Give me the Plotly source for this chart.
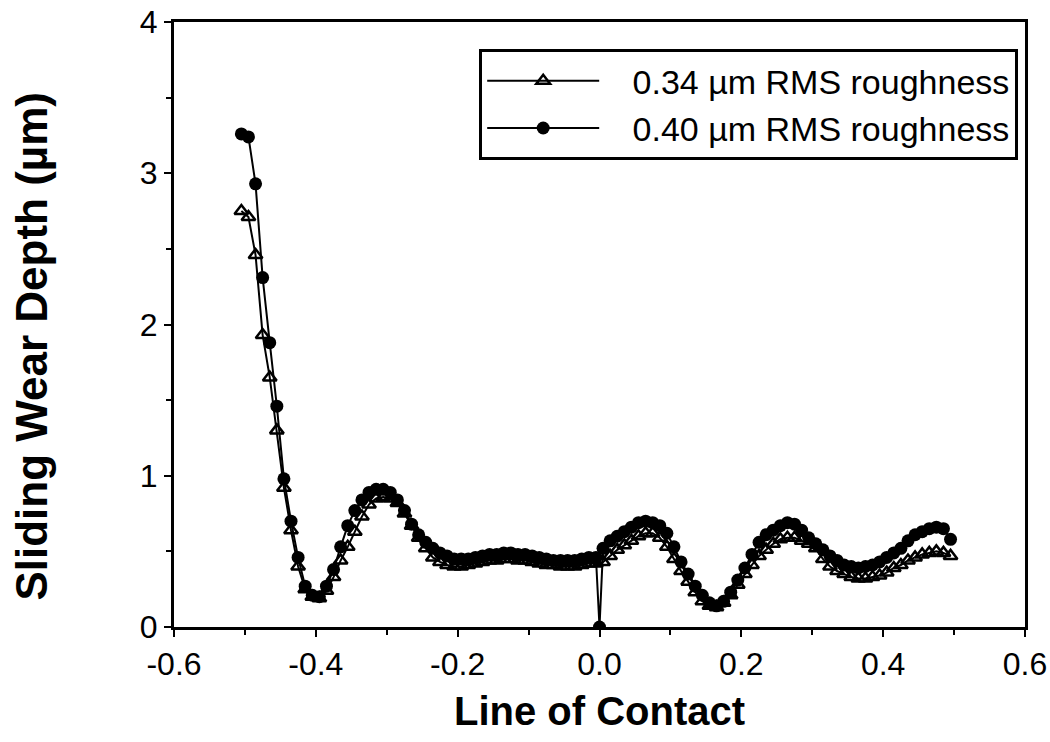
import plotly.graph_objects as go

# x positions (Line of Contact)
x_tri = [-0.505, -0.495, -0.485, -0.475, -0.465, -0.455, -0.445, -0.435, -0.425, -0.415,
         -0.405, -0.395, -0.385, -0.375, -0.365, -0.355, -0.345, -0.335, -0.325, -0.315,
         -0.305, -0.295, -0.285, -0.275, -0.265, -0.255, -0.245, -0.235, -0.225, -0.215,
         -0.205, -0.195, -0.185, -0.175, -0.165, -0.155, -0.145, -0.135, -0.125, -0.115,
         -0.105, -0.095, -0.085, -0.075, -0.065, -0.055, -0.045, -0.035, -0.025, -0.015,
         -0.005, 0.005, 0.015, 0.025, 0.035, 0.045, 0.055, 0.065, 0.075, 0.085,
         0.095, 0.105, 0.115, 0.125, 0.135, 0.145, 0.155, 0.165, 0.175, 0.185,
         0.195, 0.205, 0.215, 0.225, 0.235, 0.245, 0.255, 0.265, 0.275, 0.285,
         0.295, 0.305, 0.315, 0.325, 0.335, 0.345, 0.355, 0.365, 0.375, 0.385,
         0.395, 0.405, 0.415, 0.425, 0.435, 0.445, 0.455, 0.465, 0.475, 0.485, 0.495]

# 0.34 um RMS roughness (triangles)
y_034 = [2.75, 2.71, 2.46, 1.93, 1.65, 1.30, 0.92, 0.64, 0.40, 0.25,
         0.20, 0.19, 0.24, 0.33, 0.44, 0.53, 0.63, 0.73, 0.81, 0.85,
         0.86, 0.85, 0.82, 0.75, 0.67, 0.59, 0.52, 0.46, 0.43, 0.41,
         0.40, 0.40, 0.41, 0.42, 0.43, 0.44, 0.44, 0.45, 0.45, 0.44,
         0.44, 0.43, 0.42, 0.41, 0.41, 0.40, 0.40, 0.40, 0.41, 0.42,
         0.42, 0.43, 0.47, 0.51, 0.54, 0.57, 0.60, 0.62, 0.62, 0.59,
         0.53, 0.45, 0.37, 0.30, 0.23, 0.17, 0.14, 0.13, 0.16, 0.21,
         0.28, 0.35, 0.41, 0.47, 0.51, 0.55, 0.58, 0.59, 0.59, 0.57,
         0.55, 0.52, 0.45, 0.40, 0.37, 0.35, 0.33, 0.32, 0.32, 0.33,
         0.34, 0.36, 0.39, 0.41, 0.44, 0.46, 0.48, 0.49, 0.50, 0.49, 0.47]

x_circ = [-0.505, -0.495, -0.485, -0.475, -0.465, -0.455, -0.445, -0.435, -0.425, -0.415,
          -0.405, -0.395, -0.385, -0.375, -0.365, -0.355, -0.345, -0.335, -0.325, -0.315,
          -0.305, -0.295, -0.285, -0.275, -0.265, -0.255, -0.245, -0.235, -0.225, -0.215,
          -0.205, -0.195, -0.185, -0.175, -0.165, -0.155, -0.145, -0.135, -0.125, -0.115,
          -0.105, -0.095, -0.085, -0.075, -0.065, -0.055, -0.045, -0.035, -0.025, -0.015,
          -0.005, 0.0, 0.005, 0.015, 0.025, 0.035, 0.045, 0.055, 0.065, 0.075, 0.085,
          0.095, 0.105, 0.115, 0.125, 0.135, 0.145, 0.155, 0.165, 0.175, 0.185,
          0.195, 0.205, 0.215, 0.225, 0.235, 0.245, 0.255, 0.265, 0.275, 0.285,
          0.295, 0.305, 0.315, 0.325, 0.335, 0.345, 0.355, 0.365, 0.375, 0.385,
          0.395, 0.405, 0.415, 0.425, 0.435, 0.445, 0.455, 0.465, 0.475, 0.485, 0.495]

# 0.40 um RMS roughness (filled circles)
y_040 = [3.26, 3.24, 2.93, 2.31, 1.88, 1.46, 0.98, 0.70, 0.46, 0.27,
         0.21, 0.20, 0.27, 0.38, 0.53, 0.67, 0.77, 0.84, 0.89, 0.91,
         0.91, 0.89, 0.84, 0.77, 0.68, 0.61, 0.56, 0.52, 0.49, 0.47,
         0.45, 0.45, 0.45, 0.46, 0.47, 0.48, 0.48, 0.49, 0.49, 0.48,
         0.48, 0.47, 0.46, 0.45, 0.44, 0.44, 0.44, 0.44, 0.45, 0.46,
         0.46, 0.00, 0.52, 0.57, 0.60, 0.63, 0.66, 0.69, 0.70, 0.69, 0.67,
         0.62, 0.53, 0.43, 0.35, 0.27, 0.21, 0.16, 0.14, 0.17, 0.23,
         0.31, 0.39, 0.48, 0.56, 0.61, 0.64, 0.67, 0.69, 0.68, 0.64,
         0.59, 0.55, 0.51, 0.47, 0.44, 0.41, 0.40, 0.39, 0.40, 0.41,
         0.43, 0.46, 0.49, 0.52, 0.57, 0.61, 0.63, 0.65, 0.66, 0.65, 0.58]

x_tickvals = [-0.6, -0.4, -0.2, 0.0, 0.2, 0.4, 0.6]
x_ticktext = ["-0.6", "-0.4", "-0.2", "0.0", "0.2", "0.4", "0.6"]
y_tickvals = [0, 1, 2, 3, 4]
y_ticktext = ["0", "1", "2", "3", "4"]

series_names = ["0.34 \u00b5m RMS roughness", "0.40 \u00b5m RMS roughness"]
x_title = "Line of Contact"
y_title = "Sliding Wear Depth (\u00b5m)"

FONT = "Liberation Sans, Arial, Helvetica, sans-serif"
PAD = "\u00a0\u00a0\u00a0"

fig = go.Figure()
fig.add_trace(go.Scatter(
    x=x_tri, y=y_034, mode="lines+markers", name=PAD + series_names[0],
    line=dict(color="black", width=2),
    marker=dict(symbol="triangle-up-open", size=12, color="black",
                line=dict(color="black", width=2.5)),
))
fig.add_trace(go.Scatter(
    x=x_circ, y=y_040, mode="lines+markers", name=PAD + series_names[1],
    line=dict(color="black", width=2),
    marker=dict(symbol="circle", size=13, color="black"),
))

axis_common = dict(
    showline=True, linecolor="black", linewidth=3, mirror=True,
    ticks="outside", ticklen=7, tickwidth=2, tickcolor="black",
    showgrid=False, zeroline=False,
    tickfont=dict(family=FONT, size=32, color="black"),
)

fig.update_xaxes(
    range=[-0.6, 0.6], tickvals=x_tickvals, ticktext=x_ticktext,
    minor=dict(dtick=0.1, ticks="outside", ticklen=5, tickwidth=2, tickcolor="black"),
    title=dict(text="<b>" + x_title + "</b>", font=dict(family=FONT, size=40, color="black"),
               standoff=16),
    **axis_common,
)
fig.update_yaxes(
    range=[0, 4], tickvals=y_tickvals, ticktext=y_ticktext,
    minor=dict(dtick=0.5, ticks="outside", ticklen=5, tickwidth=2, tickcolor="black"),
    **axis_common,
)

fig.update_layout(
    width=1050, height=742,
    margin=dict(l=174, r=25, t=22, b=115, autoexpand=False),
    paper_bgcolor="white", plot_bgcolor="white",
    showlegend=True,
    legend=dict(
        x=0.992, y=0.955, xanchor="right", yanchor="top",
        bordercolor="black", borderwidth=3, bgcolor="white",
        font=dict(family=FONT, size=34, color="black"),
        itemwidth=112, tracegroupgap=0,
    ),
    annotations=[dict(
        text="<b>" + y_title + "</b>", textangle=-90,
        xref="paper", yref="paper", x=-0.167, y=0.465,
        xanchor="center", yanchor="middle", showarrow=False,
        font=dict(family=FONT, size=44, color="black"),
    )],
)

fig.write_html("out.html")
